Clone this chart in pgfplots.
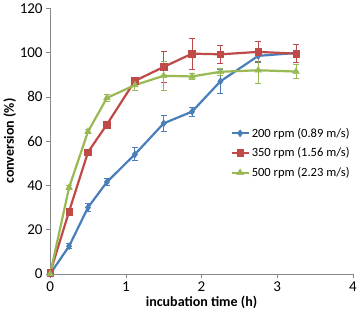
\documentclass[border=0pt]{standalone}
\usepackage{pgfplots}
\pgfplotsset{compat=1.18}
\usepackage{fontspec}
\setmainfont{Carlito}
\definecolor{cblue}{HTML}{4A7EBB}
\definecolor{cred}{HTML}{BE4B48}
\definecolor{cgreen}{HTML}{98B954}
\definecolor{axgray}{HTML}{868686}
\begin{document}
\begin{tikzpicture}
\begin{axis}[
  scale only axis, width=302pt, height=265pt,
  xmin=0, xmax=4, ymin=0, ymax=120,
  xtick={0,1,2,3,4}, ytick={0,20,...,120},
  axis x line*=bottom, axis y line*=left,
  axis line style={axgray, line width=0.6pt, -},
  tick style={axgray, line width=0.6pt},
  tick align=outside, major tick length=4pt,
  tick label style={font=\fontsize{15}{16}\selectfont},
  /pgf/number format/assume math mode=true,
  xlabel={\textbf{incubation time (h)}},
  ylabel={\textbf{conversion (\%)}},
  label style={font=\fontsize{14}{16}\selectfont},
  ylabel style={yshift=-3pt},
  xlabel style={yshift=2pt},
  legend style={draw=none, fill=none, at={(0.585,0.565)}, anchor=north west,
    font=\fontsize{12.5}{13}\selectfont, row sep=5pt},
  legend cell align=left,
  every axis plot/.append style={line width=2.2pt},
  clip=false,
]
\addplot[cblue, mark=diamond*, mark size=3.5pt, mark options={line width=0.5pt},
  error bars/.cd, y dir=both, y explicit, error bar style={line width=1pt}, error mark options={rotate=90, mark size=3pt, line width=1pt}]
coordinates {
(0,0) +- (0,0.5)
(0.25,12.5) +- (0,1)
(0.5,30) +- (0,2)
(0.75,41.5) +- (0,1.5)
(1.12,54) +- (0,3)
(1.5,68) +- (0,3.5)
(1.875,73.3) +- (0,2)
(2.25,87) +- (0,5.5)
(2.75,98.5) +- (0,3)
(3.25,99.8) +- (0,1)
};
\addlegendentry{200 rpm (0.89 m/s)}
\addplot[cred, mark=square*, mark size=3.3pt, mark options={line width=0.5pt},
  error bars/.cd, y dir=both, y explicit, error bar style={line width=1pt}, error mark options={rotate=90, mark size=3pt, line width=1pt}]
coordinates {
(0,0.5) +- (0,0.5)
(0.25,28.2) +- (0,1)
(0.5,55) +- (0,1)
(0.75,67.5) +- (0,1)
(1.12,87.2) +- (0,1)
(1.5,93.5) +- (0,7)
(1.875,99.5) +- (0,7)
(2.25,99.2) +- (0,4)
(2.75,100.3) +- (0,4.5)
(3.25,99.5) +- (0,4)
};
\addlegendentry{350 rpm (1.56 m/s)}
\addplot[cgreen, mark=triangle*, mark size=3.8pt, mark options={line width=0.5pt},
  error bars/.cd, y dir=both, y explicit, error bar style={line width=1pt}, error mark options={rotate=90, mark size=3pt, line width=1pt}]
coordinates {
(0,0) +- (0,0.5)
(0.25,39) +- (0,1)
(0.5,64.3) +- (0,1)
(0.75,79.5) +- (0,1.5)
(1.12,85.3) +- (0,2.5)
(1.5,89.5) +- (0,6.5)
(1.875,89.2) +- (0,1.5)
(2.25,91.3) +- (0,1.5)
(2.75,92) +- (0,6)
(3.25,91.4) +- (0,3)
};
\addlegendentry{500 rpm (2.23 m/s)}
\end{axis}
\end{tikzpicture}
\end{document}
